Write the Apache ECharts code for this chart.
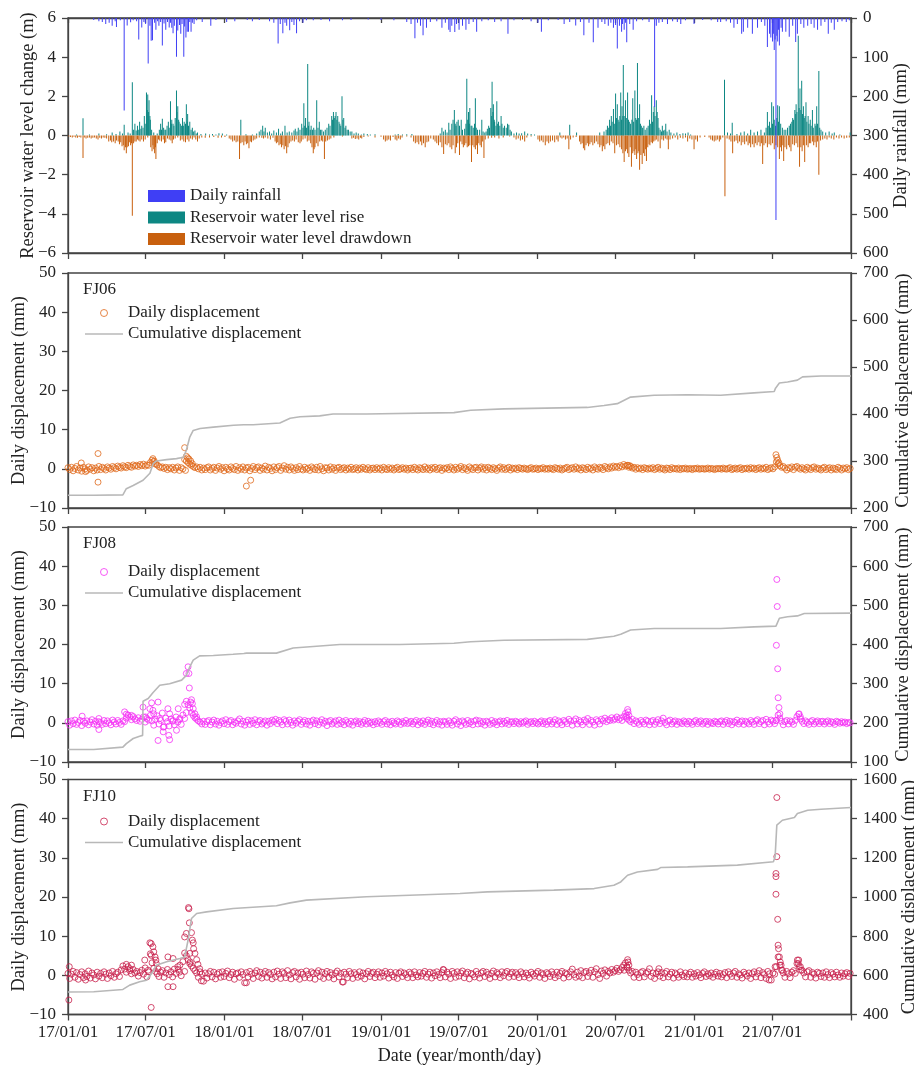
<!DOCTYPE html>
<html>
<head>
<meta charset="utf-8">
<script src="https://cdn.jsdelivr.net/npm/echarts@6/dist/echarts.min.js"></script>
<style>
  html, body { margin: 0; padding: 0; background: #fff; }
  #chart { width: 914px; height: 1067px; }
</style>
</head>
<body>
<div id="chart"></div>
<script>
// x is counted in days from 2017-01-01
var tickDays = [0, 181, 365, 546, 730, 911, 1095, 1277, 1461, 1642, 1826];
var tickLabels = ['17/01/01', '17/07/01', '18/01/01', '18/07/01', '19/01/01', '19/07/01',
  '20/01/01', '20/07/01', '21/01/01', '21/07/01', '22/01/01'];

// daily rainfall (mm): [day, value]
var rainfall = [[60,5],[72,8],[80,10],[88,15],[96,12],[103,20],[110,8],[113,23],[122,6],[131,236],[138,19],[146,11],[152,6],[160,8],[165,55],[172,24],[177,10],[181,15],[187,116],[191,20],[194,58],[197,57],[202,12],[205,30],[209,8],[212,20],[216,10],[220,70],[224,14],[228,30],[232,10],[236,24],[239,12],[242,25],[245,39],[248,20],[253,99],[256,32],[260,18],[263,40],[266,15],[270,99],[272,22],[275,50],[278,35],[281,35],[284,10],[287,35],[290,12],[294,15],[300,6],[313,10],[333,20],[345,5],[370,10],[389,8],[418,5],[430,8],[446,5],
  [470,8],[480,12],[490,65],[495,15],[501,39],[506,12],[510,20],[517,31],[522,10],[527,18],[533,39],[540,8],[548,12],[556,6],[572,6],[590,5],[610,8],[640,6],[660,5],[700,4],[730,5],[760,6],[790,10],[800,15],[809,52],[815,12],[822,20],[828,44],[836,25],[845,10],[860,8],[872,25],[880,12],[888,30],[891,36],[895,20],[902,36],[906,15],[912,30],
  [920,20],[928,30],[935,15],[945,10],[953,35],[965,8],[980,6],[995,10],[1010,8],[1026,40],[1040,6],[1060,5],[1080,8],[1096,12],[1104,35],[1120,6],[1143,5],[1157,15],[1170,10],[1184,19],[1195,10],[1203,44],[1215,12],[1225,62],[1236,25],[1245,10],[1252,15],[1260,20],[1266,12],[1272,25],[1277,18],[1281,78],[1286,20],[1291,35],[1293,15],[1297,30],[1300,12],[1303,62],[1310,15],[1318,30],[1326,8],[1340,6],[1355,10],[1368,227],[1372,20],[1378,12],[1386,10],[1398,15],[1410,8],[1421,10],[1429,15],[1440,6],[1460,15],[1480,5],[1500,6],[1515,10],[1522,10],[1535,8],[1545,12],[1553,25],[1561,15],[1571,40],[1575,35],[1585,25],[1596,40],[1608,25],[1617,10],[1625,20],[1631,74],[1636,40],[1639,50],[1643,60],[1645,40],[1647,82],[1649,55],[1651,516],[1653,45],[1655,60],[1657,30],[1659,70],[1663,25],[1666,35],[1674,35],[1682,48],[1690,20],[1697,61],[1701,40],[1709,15],[1716,25],[1725,20],[1733,15],[1740,25],[1748,30],[1756,20],[1765,10],[1773,40],[1780,12],[1787,30],[1795,10],[1805,8],[1815,10],[1822,6]];

// reservoir water level rise (m)
var levelRise = [[20,0.05],[35,0.88],[50,0.05],[72,0.1],[90,0.06],[103,0.15],[112,0.08],[121,0.2],[127,0.1],[131,0.55],[140,0.15],[145,0.1],[150,2.72],[153,0.3],[156,0.6],[159,0.25],[162,0.5],[165,0.3],[167,0.7],[170,0.35],[172,0.5],[175,0.4],[178,1.0],[180,0.6],[183,2.2],[185,1.3],[186,2.1],[188,1.2],[189,1.8],[191,1.0],[192,0.8],[195,0.3],[200,0.15],[208,0.1],[213,0.3],[216,0.6],[218,0.3],[220,0.85],[223,0.4],[226,0.3],[228,0.3],[231,0.5],[234,0.7],[236,0.4],[239,1.75],[241,0.6],[242,0.8],[245,0.6],[247,0.5],[250,0.9],[253,2.3],[254,1.2],[256,1.5],[258,0.8],[259,0.7],[262,0.6],[265,0.5],[267,0.9],[269,0.5],[271,0.7],[274,0.6],[276,1.6],[278,0.7],[279,1.1],[281,0.5],[284,0.7],[287,0.3],[290,0.4],[293,0.2],[296,0.25],[299,0.1],[302,0.15],[310,0.08],[321,0.1],[330,0.05],[337,0.08],[345,0.05],[352,0.12],[360,0.1],[370,0.05],[403,0.8],[415,0.06],[430,0.05],[440,0.1],[446,0.2],[450,0.3],[454,0.5],[457,0.2],
  [460,0.4],[465,0.15],[470,0.2],[475,0.1],[480,0.25],[486,0.15],[491,0.35],[496,0.1],[500,0.2],[506,0.5],[511,0.15],[516,0.2],[522,0.15],[527,0.25],[530,0.35],[534,0.2],[537,0.4],[541,0.3],[545,0.6],[548,0.4],[550,1.65],[552,0.5],[554,0.9],[556,0.4],[559,3.65],[561,0.5],[562,0.7],[565,0.3],[567,0.5],[570,0.3],[573,0.4],[576,0.3],[580,1.8],[583,0.4],[586,0.7],[589,0.3],[592,0.3],[596,0.2],[600,0.3],[604,0.4],[608,0.6],[611,0.5],[615,1.0],[617,0.8],[619,1.2],[621,0.9],[623,1.0],[625,1.2],[627,0.8],[629,1.0],[632,0.7],[634,0.6],[636,0.5],[639,2.0],[641,0.8],[643,0.9],[646,0.4],[648,0.5],[651,0.3],[654,0.3],[658,0.2],[662,0.2],[667,0.1],[672,0.15],[677,0.1],[684,0.05],[690,0.1],[698,0.08],[705,0.05],[716,0.06],[763,0.05],[770,0.08],[780,0.05],[790,0.06],[802,0.08],[868,0.1],[872,0.4],[876,0.2],[880,0.3],[884,0.15],[888,0.65],[891,0.3],[895,0.6],[898,0.8],[901,1.3],[903,0.6],[905,0.5],[907,0.7],
  [910,0.8],[913,0.5],[917,0.8],[920,0.3],[925,0.35],[928,0.6],[930,2.9],[932,0.8],[934,1.2],[936,0.6],[937,1.4],[940,0.5],[942,0.5],[945,0.4],[948,0.6],[950,1.9],[952,0.4],[955,0.3],[960,0.3],[965,0.8],[968,0.2],[972,0.15],[975,0.2],[978,0.35],[981,0.5],[983,0.4],[986,1.4],[988,1.0],[989,2.75],[991,1.2],[992,1.6],[994,0.8],[995,0.7],[998,0.5],[1000,1.75],[1002,0.6],[1004,0.7],[1007,0.5],[1010,1.0],[1012,0.6],[1015,0.4],[1018,0.5],[1022,0.4],[1025,0.6],[1028,0.55],[1031,0.3],[1034,0.2],[1040,0.1],[1046,0.15],[1052,0.1],[1058,0.12],[1065,0.2],[1072,0.1],[1080,0.08],[1088,0.05],[1147,0.15],[1170,0.55],[1186,0.15],[1240,0.15],[1250,0.2],[1255,0.3],[1258,0.5],[1261,0.4],[1263,0.8],[1265,0.5],[1267,1.0],[1269,0.7],[1272,1.35],[1274,0.6],[1277,2.15],[1279,0.9],[1281,1.6],[1283,0.8],[1285,0.7],[1287,1.0],[1289,2.2],[1291,0.8],[1292,1.5],[1294,1.0],[1295,3.6],[1297,1.0],[1300,1.8],[1302,0.9],[1305,2.2],[1307,0.8],[1309,0.7],[1312,0.6],[1315,0.8],[1317,1.9],[1319,0.7],[1322,2.3],[1324,0.9],[1326,0.8],[1328,3.7],[1330,0.9],[1333,1.6],[1335,0.6],[1337,0.5],[1340,0.4],[1343,0.5],[1346,0.3],[1350,0.4],[1353,0.5],[1356,0.8],[1358,0.6],[1361,2.05],[1363,0.7],[1365,1.2],[1367,1.5],[1369,1.0],
  [1372,1.8],[1374,1.2],[1376,0.9],[1378,0.4],[1381,0.3],[1384,0.2],[1386,0.5],[1389,0.25],[1392,0.3],[1394,0.6],[1397,0.2],[1402,0.3],[1406,0.15],[1413,0.1],[1420,0.15],[1427,0.08],[1434,0.12],[1440,0.1],[1446,0.15],[1452,0.05],[1531,2.85],[1538,0.15],[1545,0.1],[1549,0.65],[1560,0.08],[1569,0.15],[1577,0.2],[1585,0.1],[1592,0.3],[1600,0.15],[1608,0.2],[1616,0.3],[1624,0.15],[1628,0.4],[1631,1.2],[1633,0.5],[1636,0.7],[1638,0.4],[1641,1.7],[1643,0.6],[1645,1.5],[1647,0.8],[1650,0.5],[1653,0.9],[1655,1.55],[1657,0.7],[1659,1.5],[1662,0.6],[1666,0.4],[1670,0.3],[1674,0.3],[1678,0.4],[1682,0.5],[1685,0.6],[1688,0.7],[1690,0.9],[1692,0.8],[1695,1.3],[1697,1.1],[1698,1.6],[1700,1.2],[1703,5.1],[1705,1.4],[1707,2.4],[1709,1.3],[1711,2.8],[1713,1.1],[1715,1.5],[1717,0.9],[1719,1.0],[1721,1.7],[1723,0.7],[1726,1.0],[1728,0.6],[1731,0.8],[1733,0.5],[1736,1.3],[1738,0.4],[1742,0.6],[1744,0.5],[1746,1.5],[1748,0.6],[1751,3.3],[1753,0.4],[1756,0.3],[1760,0.2],[1767,0.15],[1775,0.2],[1782,0.1],[1787,0.15],[1800,0.05],[1824,0.15]];

// reservoir water level drawdown (m)
var levelDrop = [[2,-0.05],[6,-0.08],[10,-0.1],[14,-0.06],[18,-0.1],[22,-0.12],[26,-0.08],[30,-0.1],[35,-1.15],[38,-0.1],[42,-0.15],[46,-0.12],[50,-0.1],[54,-0.15],[58,-0.12],[62,-0.1],[66,-0.15],[70,-0.2],[74,-0.12],[78,-0.15],[82,-0.1],[86,-0.12],[90,-0.15],[95,-0.3],[99,-0.25],[102,-0.35],[106,-0.3],[110,-0.4],[113,-0.25],[117,-0.3],[120,-0.45],[123,-0.35],[126,-0.55],[129,-0.5],[131,-0.75],[134,-0.6],[136,-0.9],[138,-0.6],[141,-0.55],[143,-0.35],[146,-0.5],[148,-0.4],[150,-4.1],[153,-0.4],[156,-0.3],[159,-0.3],[162,-0.2],[165,-0.25],[168,-0.3],[172,-0.2],[176,-0.3],[180,-0.2],[186,-0.1],[193,-0.6],[196,-0.8],[198,-0.5],[200,-0.7],[202,-0.9],[204,-0.6],[205,-1.2],[208,-0.4],[211,-0.2],[214,-0.25],[218,-0.3],[222,-0.2],[225,-0.4],[228,-0.35],[232,-0.15],[236,-0.2],[240,-0.25],[243,-0.4],[246,-0.2],[250,-0.15],[256,-0.1],[262,-0.25],[266,-0.2],[270,-0.3],[274,-0.35],[278,-0.2],[282,-0.3],[286,-0.15],[290,-0.2],[294,-0.1],[298,-0.2],[302,-0.3],[306,-0.15],[312,-0.1],[320,-0.12],[330,-0.1],[340,-0.08],[350,-0.12],[358,-0.1],[366,-0.08],[376,-0.15],[380,-0.2],[384,-0.3],[388,-0.25],[392,-0.35],[396,-0.3],[400,-1.2],[403,-0.4],[406,-0.35],[410,-0.5],[413,-0.3],[416,-0.45],[419,-0.4],[422,-0.65],[425,-0.3],[428,-0.35],[432,-0.25],[436,-0.2],[440,-0.15],[446,-0.1],[452,-0.12],[456,-0.15],
  [460,-0.1],[466,-0.15],[472,-0.2],[478,-0.12],[483,-0.3],[486,-0.4],[489,-0.35],[492,-0.5],[495,-0.45],[498,-0.6],[501,-0.5],[504,-0.7],[507,-0.55],[510,-0.9],[513,-0.6],[516,-0.4],[520,-0.3],[524,-0.25],[528,-0.3],[532,-0.2],[537,-0.35],[541,-0.4],[544,-0.3],[548,-0.2],[553,-0.15],[558,-0.3],[562,-0.25],[566,-0.4],[569,-0.6],[572,-0.9],[574,-0.7],[576,-0.6],[579,-0.4],[583,-0.55],[587,-0.3],[591,-0.25],[594,-0.3],[598,-1.2],[601,-0.3],[605,-0.25],[609,-0.2],[613,-0.15],[620,-0.1],[640,-0.05],[662,-0.15],[666,-0.12],[670,-0.18],[674,-0.15],[678,-0.2],[682,-0.12],[685,-0.15],[690,-0.08],[700,-0.05],[716,-0.1],[730,-0.06],[736,-0.2],[740,-0.3],[744,-0.25],[748,-0.2],[752,-0.25],[758,-0.08],[763,-0.2],[767,-0.25],[771,-0.15],[775,-0.2],[779,-0.1],[790,-0.05],[800,-0.1],[806,-0.3],[810,-0.4],[814,-0.35],[818,-0.45],[822,-0.3],[825,-0.5],[829,-0.4],[833,-0.6],[837,-0.35],[841,-0.3],[846,-0.15],[852,-0.2],[856,-0.3],[860,-0.4],[864,-0.5],[868,-0.35],[872,-0.6],[876,-0.95],[880,-0.45],[884,-0.5],[888,-0.4],[891,-0.6],[895,-0.7],[898,-0.5],[903,-0.9],[906,-0.6],
  [909,-0.4],[913,-1.0],[916,-0.3],[919,-0.45],[922,-0.6],[925,-0.5],[928,-0.4],[931,-0.6],[934,-0.55],[937,-0.5],[941,-1.35],[944,-0.5],[947,-0.6],[950,-0.7],[953,-0.5],[955,-0.95],[958,-0.4],[961,-0.5],[964,-0.6],[967,-0.3],[970,-1.15],[973,-0.2],[980,-0.15],[988,-0.12],[995,-0.1],[1005,-0.15],[1015,-0.1],[1030,-0.05],[1040,-0.1],[1045,-0.2],[1050,-0.15],[1055,-0.25],[1060,-0.2],[1065,-0.3],[1070,-0.1],[1080,-0.05],[1096,-0.2],[1100,-0.3],[1104,-0.25],[1108,-0.35],[1113,-0.5],[1117,-0.3],[1121,-0.4],[1125,-0.3],[1130,-0.25],[1135,-0.35],[1140,-0.2],[1143,-0.3],[1148,-0.1],[1152,-0.15],[1156,-0.1],[1160,-0.2],[1164,-0.15],[1168,-0.7],[1172,-0.2],[1178,-0.1],[1185,-0.08],[1193,-0.3],[1196,-0.45],[1199,-0.4],[1202,-0.65],[1205,-0.75],[1208,-0.5],[1211,-0.4],[1214,-0.55],[1217,-0.45],[1220,-0.35],[1224,-0.5],[1228,-0.4],[1232,-0.3],[1236,-0.45],[1240,-0.6],[1243,-0.5],[1246,-0.8],[1249,-0.55],[1252,-0.7],[1255,-0.45],[1259,-0.4],[1263,-0.5],[1267,-0.3],[1271,-0.4],[1275,-0.9],[1279,-0.5],[1283,-0.45],[1287,-0.6],[1291,-0.7],[1294,-0.9],[1297,-1.35],[1300,-0.8],[1302,-0.7],[1305,-0.9],[1308,-1.1],[1311,-0.6],[1314,-1.6],[1317,-0.9],[1320,-0.8],[1322,-1.0],[1324,-0.7],[1326,-1.2],[1329,-0.9],[1331,-0.8],[1333,-1.75],[1336,-1.0],[1339,-1.45],[1342,-0.9],[1345,-1.05],[1347,-0.7],[1349,-1.3],[1352,-0.6],[1355,-0.45],[1357,-0.5],[1360,-0.35],[1363,-0.4],[1366,-0.3],[1369,-0.25],
  [1372,-0.2],[1376,-0.3],[1381,-0.65],[1385,-0.2],[1389,-0.25],[1393,-0.15],[1397,-0.2],[1400,-0.7],[1404,-0.2],[1410,-0.15],[1416,-0.1],[1422,-0.2],[1428,-0.12],[1434,-0.15],[1440,-0.1],[1445,-0.3],[1450,-0.15],[1455,-0.2],[1460,-0.7],[1464,-0.2],[1468,-0.3],[1474,-0.1],[1485,-0.08],[1495,-0.1],[1499,-0.2],[1503,-0.25],[1507,-0.3],[1511,-0.25],[1515,-0.2],[1519,-0.3],[1522,-0.2],[1527,-0.1],[1532,-3.1],[1537,-0.15],[1542,-0.2],[1546,-0.3],[1550,-0.9],[1554,-0.3],[1558,-0.25],[1562,-0.4],[1566,-0.3],[1570,-0.5],[1574,-0.35],[1578,-0.45],[1582,-0.3],[1586,-0.5],[1589,-0.4],[1592,-0.6],[1596,-0.45],[1600,-0.6],[1603,-0.4],[1607,-0.5],[1611,-0.35],[1614,-0.55],[1617,-0.4],[1620,-1.45],[1623,-0.5],[1627,-0.4],[1631,-0.6],[1635,-0.45],[1639,-0.5],[1643,-0.4],[1647,-0.7],[1651,-0.5],[1655,-0.6],[1659,-1.2],[1662,-0.6],[1664,-0.8],[1667,-0.5],[1669,-1.3],[1672,-0.6],[1676,-0.7],[1680,-0.5],[1683,-0.6],[1686,-0.8],[1690,-0.45],[1694,-0.5],[1698,-0.4],[1702,-0.6],[1706,-1.6],[1709,-0.6],[1712,-0.8],[1715,-0.5],[1718,-1.35],[1722,-0.5],[1726,-0.6],[1729,-0.4],[1732,-0.4],[1736,-0.3],[1739,-0.5],[1742,-0.35],[1745,-0.6],[1748,-0.3],[1751,-2.0],[1755,-0.25],[1760,-0.2],[1765,-0.15],[1770,-0.2],[1775,-0.1],[1780,-0.15],[1786,-0.2],[1792,-0.1],[1798,-0.15],[1804,-0.1],[1810,-0.15],[1816,-0.12],[1822,-0.1]];

// daily displacement (mm), one reading every 4 days from day 0
var fj06Daily = [
  0.3,-0.2,0.4,-0.5,0.1,0.6,-0.3,0.2,-0.6,0.4,0.0,-0.4,0.5,-0.1,0.3,-0.5,0.2,-0.3,0.6,-0.2,
  0.4,0.1,-0.3,0.5,0.2,-0.1,0.6,0.3,0.0,0.7,0.4,0.2,0.8,0.5,0.3,0.9,0.6,0.4,1.0,0.7,
  0.9,0.6,1.1,0.8,1.2,0.7,1.0,0.9,1.6,2.2,1.8,1.4,1.0,0.6,0.3,0.5,0.1,0.4,-0.2,0.3,
  0.0,0.4,-0.3,0.2,0.5,-0.4,0.3,0.0,2.4,2.0,1.6,1.2,0.9,0.6,0.3,0.5,0.0,0.4,-0.3,0.2,
  -0.2,0.3,0.5,-0.3,0.1,0.4,-0.4,0.2,0.6,-0.1,0.3,-0.5,0.4,0.0,-0.3,0.5,0.1,-0.2,0.6,-0.4,
  0.3,-0.1,0.5,-0.3,0.2,0.4,-0.5,0.1,0.6,-0.2,0.3,0.5,-0.4,0.2,-0.1,0.7,-0.3,0.4,0.1,-0.5,
  0.5,-0.2,0.3,0.6,-0.4,0.2,0.8,-0.1,0.4,-0.3,0.5,0.1,-0.4,0.3,-0.2,0.6,0.0,-0.3,0.4,-0.1,
  0.2,-0.4,0.5,0.1,-0.2,0.4,-0.3,0.6,0.0,-0.5,0.3,0.2,-0.3,0.5,-0.1,0.3,-0.4,0.2,0.4,-0.2,
  0.1,0.3,-0.3,0.2,-0.1,0.4,-0.2,0.0,0.3,-0.3,0.2,-0.1,0.4,0.0,-0.2,0.3,-0.3,0.1,0.2,-0.2,
  0.3,-0.1,0.2,-0.3,0.4,0.0,-0.2,0.3,-0.1,0.2,-0.3,0.1,0.4,-0.2,0.0,0.3,-0.1,0.2,-0.3,0.1,
  0.2,-0.2,0.4,0.0,-0.3,0.3,0.1,-0.2,0.5,-0.1,0.2,-0.3,0.3,0.0,0.4,-0.2,0.1,0.3,-0.4,0.2,
  0.0,0.3,-0.2,0.5,0.1,-0.3,0.4,-0.1,0.2,0.6,-0.2,0.3,0.0,-0.4,0.5,0.1,-0.2,0.3,0.4,-0.3,
  0.2,0.5,-0.1,0.3,-0.3,0.4,0.1,-0.2,0.3,0.0,-0.4,0.2,0.5,-0.1,0.3,-0.2,0.1,0.4,-0.3,0.2,
  0.0,0.2,-0.2,0.3,0.1,-0.1,0.2,0.0,-0.2,0.1,0.3,-0.1,0.0,0.2,-0.2,0.1,0.0,0.3,-0.1,0.1,
  -0.1,0.2,0.0,-0.2,0.3,0.1,-0.1,0.2,-0.3,0.0,0.2,0.4,-0.2,0.1,0.3,-0.1,0.5,0.0,0.2,-0.3,
  0.3,0.1,-0.2,0.4,0.0,0.2,-0.3,0.5,0.1,-0.1,0.4,0.2,-0.2,0.6,0.3,0.0,0.5,0.2,0.7,0.4,
  0.6,0.3,0.8,0.5,1.1,0.7,0.9,0.4,0.6,0.2,0.4,-0.1,0.3,0.0,0.2,-0.2,0.3,0.1,-0.1,0.2,
  0.0,0.3,-0.2,0.1,0.4,-0.1,0.2,0.0,-0.3,0.2,0.1,-0.2,0.3,0.0,0.1,-0.1,0.2,-0.2,0.1,0.0,
  0.2,-0.1,0.0,0.1,-0.2,0.1,0.0,0.2,-0.1,0.0,0.1,-0.1,0.0,0.2,-0.1,0.1,0.0,-0.2,0.1,0.0,
  0.1,-0.1,0.2,0.0,-0.1,0.1,0.3,-0.2,0.0,0.2,-0.1,0.1,0.3,-0.2,0.1,0.0,0.2,-0.1,0.3,0.0,
  0.2,-0.2,0.1,0.3,-0.1,0.2,0.0,0.4,-0.2,0.1,0.3,0.0,0.5,1.8,1.2,0.8,0.4,0.6,0.2,-0.3,
  0.3,0.1,0.5,-0.2,0.4,0.6,0.2,-0.1,0.3,0.0,-0.3,0.4,0.1,-0.2,0.3,0.5,-0.1,0.2,0.0,-0.3,
  0.2,0.4,-0.2,0.1,0.3,-0.3,0.2,0.0,-0.2,0.4,0.1,-0.3,0.2,0.0,0.3,-0.2,0.1];
var fj06Extra = [[31,1.5],[41,-0.7],[70,3.9],[70,-3.4],[198,2.6],[201,2.0],[204,1.2],[272,5.4],[274,-0.4],[276,3.2],[279,2.8],[282,2.5],[286,2.0],[290,1.3],[416,-4.4],[426,-2.9],[1306,0.9],[1310,0.8],[1651,3.6],[1653,2.9],[1655,2.2],[1658,1.5]];

var fj08Daily = [
  0.3,-0.6,0.5,-0.2,0.7,-0.4,0.1,0.6,-0.7,0.4,-0.1,0.5,-0.5,0.2,0.8,-0.3,0.4,-0.6,0.3,0.1,
  -0.4,0.6,-0.2,0.5,0.0,-0.5,0.7,0.2,-0.3,0.6,0.1,-0.4,0.5,0.3,1.2,2.0,1.5,0.8,1.6,1.0,
  0.6,1.3,0.4,0.9,1.5,0.2,1.1,0.7,1.9,0.5,-0.6,0.9,1.8,-0.3,0.6,2.5,-1.0,1.2,0.3,-0.8,
  1.0,0.4,-0.5,1.5,0.2,0.8,-0.4,2.0,1.1,5.5,4.6,3.8,2.6,1.9,1.3,0.9,0.5,0.2,-0.3,0.4,
  -0.4,0.3,0.6,-0.5,0.2,0.7,-0.3,0.4,-0.6,0.1,0.5,-0.2,0.8,-0.4,0.3,0.6,-0.5,0.2,-0.1,0.5,
  1.0,-0.3,0.4,-0.6,0.2,0.7,-0.4,0.5,-0.1,0.8,-0.5,0.3,0.6,-0.3,0.1,0.5,-0.6,0.4,-0.2,0.7,
  0.3,0.9,-0.2,0.6,0.2,-0.5,0.8,0.4,-0.3,0.7,0.1,-0.6,0.5,-0.1,0.4,0.8,-0.4,0.2,0.6,-0.3,
  0.4,-0.6,0.3,0.7,-0.2,0.5,-0.5,0.2,0.8,-0.1,0.4,-0.7,0.3,0.6,-0.3,0.1,0.5,-0.4,0.7,-0.2,
  0.3,-0.5,0.6,0.1,-0.3,0.4,-0.6,0.2,0.5,-0.2,0.3,-0.4,0.1,0.6,-0.3,0.4,-0.1,0.2,-0.5,0.3,
  -0.2,0.5,0.1,-0.4,0.3,0.6,-0.3,0.2,-0.5,0.4,0.0,-0.3,0.5,0.2,-0.4,0.3,-0.1,0.6,-0.2,0.1,
  0.4,-0.3,0.2,0.6,-0.5,0.3,-0.1,0.5,-0.4,0.2,0.7,-0.2,0.4,-0.5,0.1,0.6,-0.3,0.3,-0.6,0.4,
  0.2,-0.4,0.5,0.0,-0.6,0.4,0.8,-0.3,0.3,-0.7,0.5,0.1,-0.4,0.6,-0.2,0.3,-0.5,0.4,0.7,-0.3,
  0.5,-0.2,0.3,-0.6,0.4,0.1,-0.4,0.6,-0.1,0.3,-0.5,0.2,0.5,-0.3,0.4,-0.1,0.6,-0.4,0.2,0.3,
  -0.2,0.4,0.1,-0.3,0.3,-0.1,0.2,0.5,-0.4,0.1,0.3,-0.2,0.4,0.0,-0.3,0.2,0.5,-0.2,0.3,-0.4,
  0.3,0.6,-0.3,0.2,0.8,-0.4,0.5,0.1,-0.5,0.6,0.3,-0.2,0.9,0.4,-0.6,0.5,1.0,-0.3,0.6,0.2,
  -0.5,0.7,0.3,1.1,-0.4,0.6,0.2,-0.6,0.8,0.4,-0.3,0.9,0.5,1.2,0.3,0.8,0.6,1.3,0.7,1.0,
  1.5,0.8,1.2,0.6,1.6,2.4,1.1,0.7,0.3,0.9,-0.2,0.5,0.1,-0.4,0.6,0.2,-0.3,0.7,0.4,-0.5,
  0.3,0.6,-0.4,0.2,0.8,-0.2,0.5,1.2,0.1,-0.5,0.4,0.7,-0.3,0.2,0.5,-0.4,0.3,0.1,-0.2,0.5,
  0.2,-0.3,0.4,0.1,-0.4,0.3,0.6,-0.2,0.2,0.5,-0.3,0.1,0.4,-0.4,0.3,0.0,-0.2,0.4,0.2,-0.3,
  0.3,0.5,-0.4,0.2,0.6,-0.2,0.4,-0.5,0.3,0.1,0.7,-0.3,0.2,0.5,-0.4,0.4,0.1,-0.3,0.6,0.2,
  -0.4,0.5,0.8,-0.2,0.3,0.6,-0.5,0.9,0.2,-0.3,0.7,0.4,-0.2,0.6,2.0,1.2,0.4,-0.5,0.3,0.6,
  -0.3,0.5,0.2,-0.4,0.6,1.6,2.2,1.0,0.4,-0.2,0.5,0.1,-0.4,0.3,0.6,-0.3,0.2,0.5,-0.2,0.3,
  0.4,-0.3,0.2,0.5,-0.2,0.3,0.1,-0.4,0.4,0.2,-0.1,0.3,0.0,0.2,-0.2,0.1,0.0];
var fj08Extra = [[33,1.7],[72,-1.7],[72,1.1],[132,2.8],[136,2.2],[148,1.9],[175,4.0],[181,1.5],[191,3.6],[195,5.1],[198,3.2],[200,2.3],[210,5.3],[210,-4.5],[214,1.1],[222,-1.1],[222,-2.3],[233,3.6],[235,-3.2],[237,2.3],[237,-4.3],[245,0.6],[253,-1.9],[257,3.6],[261,1.1],[272,4.7],[276,12.6],[276,2.6],[280,14.3],[282,12.6],[283,8.9],[286,5.3],[288,5.9],[290,4.9],[292,3.6],[296,2.3],[300,1.5],[1301,1.5],[1303,1.9],[1305,3.4],[1306,2.8],[1308,1.9],[1651,0.6],[1652,19.8],[1653,36.6],[1654,29.7],[1655,13.8],[1656,6.4],[1658,3.9],[1660,2.3],[1705,2.3],[1708,1.5]];

var fj10Daily = [
  0.5,-0.8,0.3,1.0,-0.5,0.7,-1.0,0.2,0.9,-0.6,0.4,-0.3,1.1,-0.7,0.6,0.1,-0.9,0.8,-0.2,0.5,
  -0.6,0.9,0.3,-0.8,0.6,-0.1,1.0,-0.5,0.4,0.8,-0.3,1.4,2.4,1.6,0.8,2.2,1.2,0.4,1.5,0.6,
  1.0,-0.2,0.7,1.3,0.3,1.9,-0.4,0.9,5.5,3.2,1.8,1.0,0.4,-0.3,0.8,1.2,-0.5,0.6,1.5,0.2,
  0.9,-0.4,1.6,0.5,2.2,0.8,-0.1,3.5,1.0,5.0,4.0,3.0,2.4,1.8,1.2,0.6,-0.5,0.9,0.3,-1.5,
  0.6,-0.7,0.4,1.0,-0.4,0.8,-0.9,0.3,0.7,-0.5,0.9,-0.3,0.5,1.1,-0.6,0.2,0.8,-1.0,0.4,0.6,
  -0.5,0.9,0.2,-1.9,0.7,-0.4,1.0,0.3,-0.8,0.6,1.2,-0.3,0.8,-0.7,0.4,1.0,-0.5,0.7,0.2,-0.9,
  0.8,-0.4,1.1,0.3,-0.8,0.9,0.5,-0.6,1.2,0.1,-0.9,0.7,1.0,-0.4,0.6,-1.0,0.8,0.3,-0.6,1.1,
  0.2,-0.7,0.9,0.5,-1.0,0.6,1.2,-0.3,0.8,-0.8,0.4,1.0,-0.5,0.7,0.1,-0.9,0.6,1.1,-0.4,0.5,
  -1.7,0.8,0.3,-0.6,1.0,0.4,-0.8,0.7,0.2,-0.5,0.9,-0.2,0.6,-0.9,0.4,1.0,-0.3,0.5,0.8,-0.6,
  0.3,0.9,-0.5,0.6,-0.2,1.0,0.4,-0.7,0.8,0.1,-0.4,0.7,-0.8,0.5,0.9,-0.3,0.6,0.2,-0.6,0.8,
  0.4,-0.6,0.9,0.1,-0.4,0.7,-0.2,0.5,1.0,-0.5,0.3,0.8,-0.7,0.6,-0.1,0.9,0.2,-0.6,0.7,1.4,
  -0.4,0.8,0.3,-0.8,1.0,0.5,-0.5,0.9,-0.2,0.6,1.1,-0.6,0.4,0.8,-0.9,0.5,0.2,-0.4,1.0,0.3,
  -0.7,0.6,1.0,-0.3,0.8,0.2,-0.8,0.5,1.1,-0.4,0.7,0.3,-0.6,0.9,-0.1,0.6,1.0,-0.5,0.4,0.8,
  -0.3,0.7,0.2,-0.6,0.9,0.4,-0.4,0.6,0.1,-0.7,0.8,0.3,-0.2,0.5,1.0,-0.5,0.6,0.2,-0.8,0.7,
  0.4,-0.3,0.9,0.2,-0.6,0.8,-0.1,0.5,1.0,-0.7,0.6,0.3,-0.4,0.9,1.6,0.2,-0.5,0.8,-0.2,1.2,
  -0.6,0.7,1.0,-0.3,0.6,1.3,-0.5,0.9,1.7,0.2,-0.8,1.1,0.5,1.4,-0.2,1.0,0.6,1.5,0.8,1.2,
  1.8,1.0,1.4,2.0,2.6,3.2,2.0,1.3,0.6,1.0,-0.5,0.8,0.2,-0.6,0.7,1.0,-0.4,0.5,0.9,1.7,
  -0.3,0.6,-0.8,0.4,0.9,-0.2,0.7,-0.6,0.5,1.0,-0.4,0.3,0.8,-0.7,0.6,0.2,-0.5,0.9,0.1,-0.3,
  0.6,-0.4,0.3,0.8,-0.5,0.4,-0.2,0.7,0.1,-0.6,0.5,0.9,-0.3,0.4,-0.1,0.6,-0.5,0.3,0.8,-0.2,
  0.5,-0.4,0.2,0.7,-0.6,0.9,0.3,-0.3,0.6,1.0,-0.5,0.4,0.1,-0.7,0.8,0.3,-0.2,0.6,-0.8,0.4,
  0.9,-0.4,0.5,1.2,-0.6,0.7,0.2,-0.8,1.0,0.4,-1.2,0.6,0.3,2.2,4.7,2.6,1.3,0.6,-0.5,1.0,
  0.4,-0.6,0.8,1.2,0.5,3.0,3.9,2.2,1.3,0.6,-0.4,0.9,1.2,-0.5,0.7,0.3,-0.7,0.8,0.5,-0.3,
  0.6,-0.5,0.9,0.2,-0.6,0.7,0.3,-0.4,0.8,0.1,-0.5,0.6,-0.2,0.4,0.7,-0.3,0.5];
var fj10Extra = [[3,2.2],[2,-6.3],[41,-1.2],[136,2.8],[144,1.7],[148,2.6],[179,3.9],[187,1.3],[191,8.3],[194,8.1],[194,5.1],[194,-8.2],[198,7.3],[200,6.0],[203,4.7],[205,3.9],[206,3.0],[210,1.7],[233,4.7],[233,-2.9],[245,4.3],[245,-2.9],[257,1.5],[261,2.6],[272,9.8],[272,5.7],[276,10.7],[281,17.3],[282,17.0],[283,13.4],[284,5.6],[285,3.4],[288,10.9],[290,9.0],[292,8.3],[293,6.8],[296,5.6],[300,4.0],[303,2.8],[307,1.7],[311,-1.4],[416,-1.9],[642,-1.7],[875,1.5],[1297,1.3],[1303,2.2],[1305,4.0],[1306,3.4],[1308,2.6],[1378,1.7],[1635,-1.2],[1649,2.2],[1651,26.0],[1651,25.2],[1651,20.7],[1653,45.4],[1653,30.3],[1655,14.3],[1656,7.7],[1657,6.8],[1659,4.7],[1661,3.4],[1663,2.6],[1666,1.3],[1701,3.9],[1703,3.0],[1705,2.2],[1709,1.3]];

// cumulative displacement (mm): [day, value]
var fj06Cum = [[0,227],[60,227],[128,228],[136,241],[152,248],[175,259],[191,274],[199,295],[206,300],[230,303],[253,305],[269,308],[276,323],[284,351],[292,365],[308,369],[339,372],[386,376],[410,377],[412,380],[414,377],[432,377],[494,381],[518,391],[541,394],[587,396],[618,400],[696,400],[900,403],[939,408],[1017,411],[1211,414],[1250,418],[1281,422],[1312,436],[1367,440],[1445,441],[1522,440],[1600,445],[1647,448],[1650,455],[1659,466],[1678,468],[1701,472],[1713,479],[1756,481],[1826,481]];
var fj08Cum = [[0,132],[60,132],[128,138],[136,147],[152,160],[167,166],[174,168],[175,255],[187,262],[198,277],[214,296],[237,300],[265,309],[276,321],[284,343],[292,360],[307,371],[339,372],[385,375],[410,377],[413,381],[416,378],[486,378],[525,391],[572,395],[634,400],[774,400],[900,403],[939,407],[1017,411],[1211,413],[1273,421],[1289,426],[1312,437],[1367,441],[1522,441],[1600,445],[1651,447],[1659,467],[1678,471],[1701,473],[1717,479],[1826,480]];
var fj10Cum = [[0,515],[60,516],[128,528],[144,550],[167,567],[183,575],[195,609],[206,652],[230,669],[261,686],[272,694],[280,779],[288,890],[300,916],[323,924],[385,941],[486,955],[518,970],[556,984],[696,1001],[914,1018],[978,1026],[1133,1035],[1227,1043],[1273,1060],[1289,1077],[1305,1111],[1328,1128],[1375,1141],[1383,1151],[1445,1154],[1561,1163],[1645,1180],[1649,1205],[1653,1367],[1666,1392],[1694,1406],[1701,1426],[1725,1443],[1756,1448],[1826,1457]];

function everyFourDays(vals, extra) {
  return vals.map(function (v, i) { return [i * 4, v]; }).concat(extra);
}

var FONT = 'Liberation Serif';
var INK = '#222';
var AXIS = '#444';
var GRAY = '#b8b8b8';
var LINE_ICON = 'path://M0,0H40V1.6H0Z';

var legendText = {
  'rain': 'Daily rainfall', 'rise': 'Reservoir water level rise', 'drop': 'Reservoir water level drawdown',
  'FJ06 d': 'Daily displacement', 'FJ06 c': 'Cumulative displacement',
  'FJ08 d': 'Daily displacement', 'FJ08 c': 'Cumulative displacement',
  'FJ10 d': 'Daily displacement', 'FJ10 c': 'Cumulative displacement'
};

var tops = [18, 273, 527, 779.5];

function minus(v) { return String(v).replace('-', '\u2212'); }

function xAxis(gi, withLabels) {
  return {
    type: 'value', gridIndex: gi, min: 0, max: 1826,
    splitLine: { show: false },
    axisLine: { onZero: false, lineStyle: { color: AXIS, width: 1.3 } },
    axisTick: { customValues: tickDays, length: 6, lineStyle: { color: AXIS, width: 1.3 } },
    axisLabel: withLabels ? {
      customValues: tickDays.slice(0, 10), margin: 10,
      fontFamily: FONT, fontSize: 17, color: INK,
      formatter: function (v) { return tickLabels[tickDays.indexOf(v)]; }
    } : { show: false },
    name: withLabels ? 'Date (year/month/day)' : '',
    nameLocation: 'middle', nameGap: 33, nameMoveOverlap: false,
    nameTextStyle: { fontFamily: FONT, fontSize: 18, color: INK }
  };
}

function yAxis(gi, pos, min, max, step, name, gap, inverse) {
  return {
    type: 'value', gridIndex: gi, position: pos, min: min, max: max, interval: step,
    inverse: !!inverse,
    splitLine: { show: false },
    axisLine: { show: true, onZero: false, lineStyle: { color: AXIS, width: 1.3 } },
    axisTick: { length: 6, lineStyle: { color: AXIS, width: 1.3 } },
    axisLabel: { margin: 12, fontFamily: FONT, fontSize: 17, color: INK, formatter: minus },
    name: name, nameLocation: 'middle', nameRotate: 90, nameGap: gap, nameMoveOverlap: false,
    nameTextStyle: { fontFamily: FONT, fontSize: 18.5, color: INK }
  };
}

var xAxes = [xAxis(0, false), xAxis(1, false), xAxis(2, false), xAxis(3, true)];
// inward ticks on the top edge of the reservoir panel
xAxes.push({
  type: 'value', gridIndex: 0, position: 'top', min: 0, max: 1826,
  splitLine: { show: false },
  axisLine: { onZero: false, lineStyle: { color: AXIS, width: 1.3 } },
  axisTick: { inside: true, customValues: tickDays, length: 5, lineStyle: { color: AXIS, width: 1.3 } },
  axisLabel: { show: false }
});

var yAxes = [
  yAxis(0, 'left', -6, 6, 2, 'Reservoir water level change (m)', 30),
  yAxis(0, 'right', 0, 600, 100, 'Daily rainfall (mm)', 41, true),
  yAxis(1, 'left', -10, 50, 10, 'Daily displacement (mm)', 39),
  yAxis(1, 'right', 200, 700, 100, 'Cumulative displacement (mm)', 42.5),
  yAxis(2, 'left', -10, 50, 10, 'Daily displacement (mm)', 39),
  yAxis(2, 'right', 100, 700, 100, 'Cumulative displacement (mm)', 42.5),
  yAxis(3, 'left', -10, 50, 10, 'Daily displacement (mm)', 39),
  yAxis(3, 'right', 400, 1600, 200, 'Cumulative displacement (mm)', 48.5)
];

function bar(name, yi, data, color) {
  return {
    name: name, type: 'bar', xAxisIndex: 0, yAxisIndex: yi, data: data,
    barWidth: 1, barGap: '-100%', itemStyle: { color: color }
  };
}

function cumLine(name, gi, data) {
  return {
    name: name, type: 'line', xAxisIndex: gi, yAxisIndex: gi * 2 + 1, data: data,
    symbol: 'none', lineStyle: { color: GRAY, width: 1.6 }, itemStyle: { color: GRAY }
  };
}

function dots(name, gi, data, color) {
  return {
    name: name, type: 'scatter', xAxisIndex: gi, yAxisIndex: gi * 2, data: data,
    symbol: 'circle', symbolSize: 6,
    itemStyle: { color: 'rgba(255,255,255,0)', borderColor: color, borderWidth: 1 }
  };
}

function dispLegend(station, top) {
  return {
    data: [
      { name: station + ' d', itemStyle: { borderWidth: 1 } },
      { name: station + ' c', icon: LINE_ICON, itemStyle: { color: GRAY, borderWidth: 0 } }
    ],
    orient: 'vertical', left: 80, top: top,
    itemWidth: 38, itemHeight: 7, itemGap: 4, selectedMode: false,
    textStyle: { fontFamily: FONT, fontSize: 17, color: INK, lineHeight: 17 },
    formatter: function (n) { return legendText[n]; }
  };
}

var chart = echarts.init(document.getElementById('chart'));
chart.setOption({
  animation: false,
  backgroundColor: '#fff',
  grid: tops.map(function (t) {
    return {
      left: 68, right: 63, top: t, height: 235, outerBoundsMode: 'none',
      show: true, borderColor: AXIS, borderWidth: 1.3, backgroundColor: 'transparent'
    };
  }),
  title: [
    { text: 'FJ06', left: 78, top: 276.5 },
    { text: 'FJ08', left: 78, top: 530.5 },
    { text: 'FJ10', left: 78, top: 783 }
  ].map(function (t) {
    t.textStyle = { fontFamily: FONT, fontSize: 17, fontWeight: 'normal', color: INK };
    return t;
  }),
  legend: [
    {
      data: ['rain', 'rise', 'drop'], orient: 'vertical', left: 143, top: 182.5,
      itemWidth: 37, itemHeight: 12, itemGap: 4.5, selectedMode: false, icon: 'rect',
      textStyle: { fontFamily: FONT, fontSize: 17, color: INK, lineHeight: 17 },
      formatter: function (n) { return legendText[n]; }
    },
    dispLegend('FJ06', 299.5),
    dispLegend('FJ08', 558.5),
    dispLegend('FJ10', 808)
  ],
  xAxis: xAxes,
  yAxis: yAxes,
  series: [
    bar('rise', 0, levelRise, '#0d8783'),
    bar('drop', 0, levelDrop, '#c8600e'),
    bar('rain', 1, rainfall, '#3f3ff5'),
    cumLine('FJ06 c', 1, fj06Cum),
    dots('FJ06 d', 1, everyFourDays(fj06Daily, fj06Extra), '#e0691c'),
    cumLine('FJ08 c', 2, fj08Cum),
    dots('FJ08 d', 2, everyFourDays(fj08Daily, fj08Extra), '#f531f5'),
    cumLine('FJ10 c', 3, fj10Cum),
    dots('FJ10 d', 3, everyFourDays(fj10Daily, fj10Extra), '#c8204c')
  ]
});
</script>
</body>
</html>
